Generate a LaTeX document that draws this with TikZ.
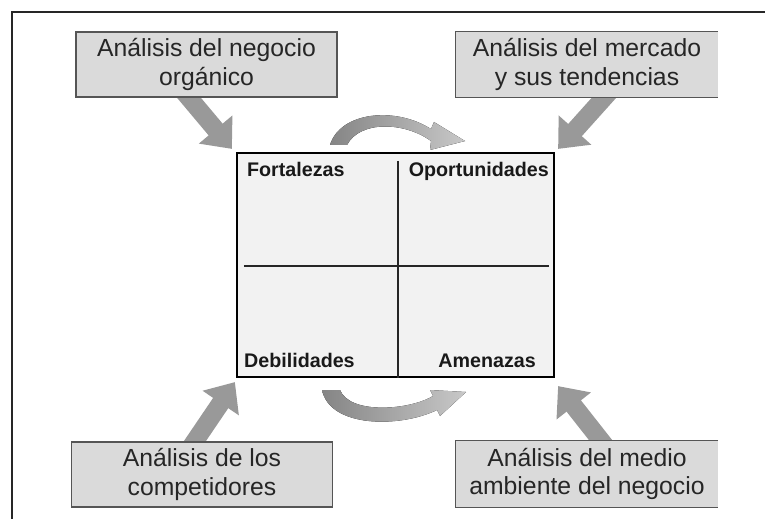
\documentclass[tikz,border=0pt]{standalone}
\usepackage{fontspec}
\setmainfont{Liberation Sans}
\usetikzlibrary{positioning,calc,arrows.meta,backgrounds}

\definecolor{fondocaja}{HTML}{DADADA}
\definecolor{bordecaja}{HTML}{555555}
\definecolor{flecha}{HTML}{999999}
\definecolor{fondofoda}{HTML}{F2F2F2}
\definecolor{curvaosc}{HTML}{858585}
\definecolor{curvaclara}{HTML}{C8C8C8}

\tikzset{
  caja/.style={fill=fondocaja, draw=bordecaja, line width=1pt, minimum width=6.525cm, minimum height=1.625cm, align=center, font=\fontsize{17.6}{20}\selectfont, text=black!85},
  cuadrante/.style={inner sep=0pt, font=\bfseries\fontsize{14}{16}\selectfont, text=black!90},
  flechagris/.style={flecha, line width=13pt, -{Triangle[length=18pt,width=30pt]}},
  curva/.style={left color=curvaosc, right color=curvaclara, draw=none},
}

\begin{document}
\begin{tikzpicture}[x=0.025cm, y=-0.025cm]
    \useasboundingbox (0,0) rectangle (765,519);
    \draw[line width=1pt, black!85] (765,12) -- (12,12) -- (12,519); % marco

    % cajas de analisis
    \node[caja] (negocio) at (206.5,64.5) {Análisis del negocio\\orgánico};
    \node[caja, draw=none] (mercado) at (587,64.5) {Análisis del mercado\\y sus tendencias};
    \node[caja] (competidores) at (202,474.5) {Análisis de los\\competidores};
    \node[caja, draw=none] (medio) at (587,474) {Análisis del medio\\ambiente del negocio};
    \draw[bordecaja, line width=1pt] (mercado.north east) -- (mercado.north west) -- (mercado.south west) -- (mercado.south east);
    \draw[bordecaja, line width=1pt] (medio.north east) -- (medio.north west) -- (medio.south west) -- (medio.south east);

    % matriz FODA
    \node[draw, line width=1.5pt, fill=fondofoda, minimum width=7.925cm, minimum height=5.6cm] (foda) at (395.5,265) {};
    \draw[line width=1pt, black!85] ($(foda.north)+(2.5,9)$) -- ($(foda.south)+(2.5,0)$);
    \draw[line width=1pt, black!85] ($(foda.west)+(8,1)$) -- ($(foda.east)+(-6,1)$);

    \node[cuadrante, anchor=north west] (fortalezas) at ($(foda.north west)+(11,10)$) {Fortalezas};
    \node[cuadrante, anchor=north east] (oportunidades) at ($(foda.north east)+(-6,10)$) {Oportunidades};
    \node[cuadrante, anchor=south west] (debilidades) at ($(foda.south west)+(8,-10)$) {Debilidades};
    \node[cuadrante, anchor=south east] (amenazas) at ($(foda.south east)+(-19,-10)$) {Amenazas};

    \begin{scope}[on background layer]
    \draw[flechagris] ($(negocio.south)+(-26,-10)$) -- ($(foda.north west)+(-4,-3)$);
    \draw[flechagris] ($(mercado.south)+(26,-10)$) -- ($(foda.north east)+(3,-3)$);
    \draw[flechagris] ($(competidores.north)+(-14,10)$) -- ($(foda.south west)+(-1,4)$);
    \draw[flechagris] ($(medio.north)+(22,10)$) -- ($(foda.south east)+(3,8)$);
    \end{scope}

    % flechas curvas
    \fill[curva] (330,145) .. controls (340,112) and (395,106) .. (431,129) -- (434,122) -- (465,141) -- (430,150) -- (431,141)
        .. controls (405,122) and (360,120) .. (347,145) -- cycle; % arriba
    \fill[curva] (322,390) .. controls (330,428) and (400,428) .. (437,410) -- (440,416) -- (466,392) -- (430,390) -- (433,396)
        .. controls (410,410) and (350,415) .. (340,390) -- cycle; % abajo
\end{tikzpicture}
\end{document}
